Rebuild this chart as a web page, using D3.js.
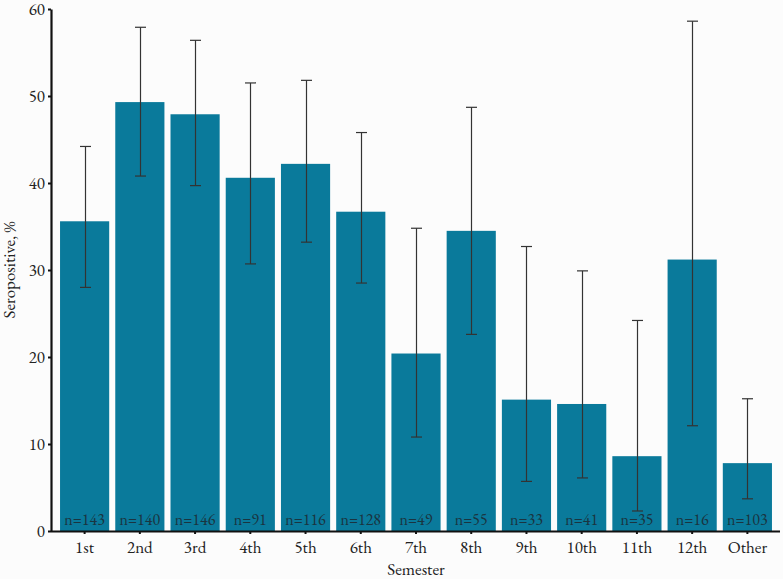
<!DOCTYPE html>
<html><head><meta charset="utf-8">
<script src="https://cdn.jsdelivr.net/npm/d3@7"></script>
<style>
html,body{margin:0;padding:0;background:#fcfcfc;}
svg{display:block;}
svg text{font-family:"EB Garamond","Liberation Serif",serif !important;}
</style></head>
<body>
<svg id="chart" width="783" height="579"></svg>
<script>
const categories = ["1st","2nd","3rd","4th","5th","6th","7th","8th","9th","10th","11th","12th","Other"];
const values = [35.6,49.3,47.9,40.6,42.2,36.7,20.4,34.5,15.1,14.6,8.6,31.2,7.8];
const lower = [28.0,40.8,39.7,30.7,33.2,28.5,10.8,22.6,5.7,6.1,2.3,12.1,3.7];
const upper = [44.2,57.9,56.4,51.5,51.8,45.8,34.8,48.7,32.7,29.9,24.2,58.6,15.2];
const nLabels = ["n=143","n=140","n=146","n=91","n=116","n=128","n=49","n=55","n=33","n=41","n=35","n=16","n=103"];
const yTicks = [0,10,20,30,40,50,60];

(function(){
const svg = d3.select("#chart");
const mLeft = 51, mRight = 780, mTop = 9, mBottom = 531;

const x = d3.scaleBand().domain(categories).range([57, 775]).paddingInner(0.11).paddingOuter(0.055);
const y = d3.scaleLinear().domain([0,60]).range([mBottom, mTop]);

const data = categories.map((c,i)=>({c, v:values[i], lo:lower[i], hi:upper[i], n:nLabels[i]}));

// bars
svg.append("g").selectAll("rect").data(data).join("rect")
  .attr("x", d=>x(d.c)).attr("width", x.bandwidth())
  .attr("y", d=>y(d.v)).attr("height", d=>y(0)-y(d.v))
  .attr("fill", "#0a7a9b");

// n labels
svg.append("g").selectAll("text").data(data).join("text")
  .attr("x", d=>x(d.c)+x.bandwidth()/2).attr("y", mBottom-6)
  .attr("text-anchor","middle").style("font-size", "16px").attr("fill","#1a3440")
  .text(d=>d.n);

// error bars
const eb = svg.append("g").attr("stroke","#333").attr("stroke-width",1.2).attr("fill","none");
data.forEach(d=>{
  const cx = Math.round(x(d.c)+x.bandwidth()/2)+0.5;
  eb.append("line").attr("x1",cx).attr("x2",cx).attr("y1",y(d.lo)).attr("y2",y(d.hi));
  eb.append("line").attr("x1",cx-5.5).attr("x2",cx+5.5).attr("y1",y(d.lo)).attr("y2",y(d.lo));
  eb.append("line").attr("x1",cx-5.5).attr("x2",cx+5.5).attr("y1",y(d.hi)).attr("y2",y(d.hi));
});

// y axis
const ya = svg.append("g").attr("transform",`translate(${mLeft},0)`)
  .call(d3.axisLeft(y).tickValues(yTicks).tickSize(3).tickPadding(3).tickSizeOuter(0));
ya.select(".domain").attr("stroke","#111").attr("stroke-width",2.2);
ya.selectAll(".tick line").attr("stroke","#111").attr("stroke-width",2);
ya.selectAll("text").style("font-size","17px").attr("fill","#222");

// x axis
const xa = svg.append("g").attr("transform",`translate(0,${mBottom})`)
  .call(d3.axisBottom(x).tickSize(3).tickPadding(7).tickSizeOuter(0));
xa.select(".domain").attr("d", `M${mLeft},0.5H${mRight}`).attr("stroke","#111").attr("stroke-width",2.2);
xa.selectAll(".tick line").attr("stroke","#111").attr("stroke-width",2);
xa.selectAll("text").style("font-size","17px").attr("fill","#222");

// axis titles
svg.append("text").attr("x", 416).attr("y", 575).attr("text-anchor","middle")
  .style("font-size","17px").attr("fill","#222").text("Semester");
svg.append("text").attr("transform","translate(15,270) rotate(-90)").attr("text-anchor","middle")
  .style("font-size","17px").attr("fill","#222").text("Seropositive, %");
})();
</script>
</body></html>
